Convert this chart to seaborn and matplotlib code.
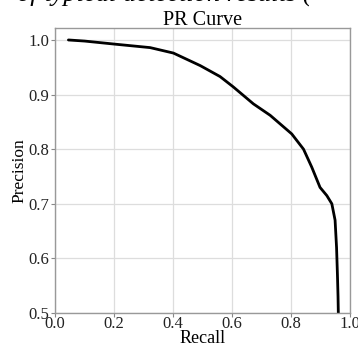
import matplotlib
matplotlib.use("Agg")
import matplotlib.pyplot as plt
import seaborn as sns
import pandas as pd

recall = [0.045, 0.10, 0.209, 0.322, 0.401, 0.492, 0.559, 0.604, 0.672, 0.729,
          0.802, 0.842, 0.870, 0.898, 0.921, 0.938, 0.949, 0.954, 0.957, 0.959, 0.960]
precision = [1.000, 0.998, 0.992, 0.986, 0.976, 0.953, 0.933, 0.914, 0.883, 0.862,
             0.828, 0.800, 0.767, 0.730, 0.715, 0.700, 0.670, 0.620, 0.570, 0.530, 0.500]
xticks = [0.0, 0.2, 0.4, 0.6, 0.8, 1.0]
yticks = [0.5, 0.6, 0.7, 0.8, 0.9, 1.0]

df = pd.DataFrame({"Recall": recall, "Precision": precision})

sns.set_theme(style="whitegrid")
plt.rcParams["font.family"] = ["Liberation Serif", "DejaVu Serif"]

fig = plt.figure(figsize=(3.58, 3.43), dpi=100)
ax = fig.add_axes([0.154, 0.0875, 0.824, 0.831])
sns.lineplot(data=df, x="Recall", y="Precision", sort=False, estimator=None,
             color="black", linewidth=2.0, ax=ax)
ax.set_xlim(0, 1.0)
ax.set_ylim(0.5, 1.022)
ax.set_xticks(xticks)
ax.set_yticks(yticks)
ax.set_xticklabels([f"{v:.1f}" for v in xticks], fontsize=12, color="#222222")
ax.set_yticklabels([f"{v:.1f}" for v in yticks], fontsize=12, color="#222222")
ax.tick_params(axis="both", length=3, width=0.8, color="#888888", pad=1, direction="out")
ax.tick_params(axis="x", bottom=True, pad=-0.5)
ax.tick_params(axis="y", left=True)
ax.grid(True, color="#dddddd", linewidth=0.9)
for s in ax.spines.values():
    s.set_color("#999999")
    s.set_linewidth(1.0)
ax.set_xlabel("Recall", fontsize=13, labelpad=-1.5, color="black")
ax.set_ylabel("Precision", fontsize=12.5, labelpad=1, color="black")
ax.set_title("PR Curve", fontsize=14.5, pad=2, color="black")

fig.text(312/358, 1 - 1/343, "of typical detection results (", fontsize=19, style="italic",
         ha="right", va="baseline", color="black")

fig.savefig("out.png", dpi=100)
